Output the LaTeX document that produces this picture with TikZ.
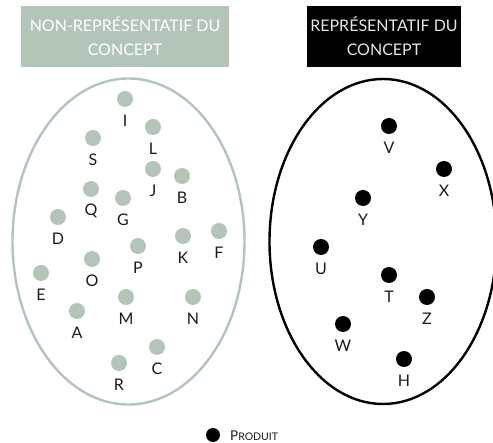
\documentclass[tikz,border=0pt]{standalone}
\usepackage{fontspec}
\setmainfont{Lato}
\definecolor{sage}{HTML}{B3C4B8}
\definecolor{lightgr}{HTML}{E6E6E6}
\definecolor{ink}{HTML}{1A1A1A}
\begin{document}
\begin{tikzpicture}[x=1pt,y=-1pt,
  hdr/.style={minimum width=208pt,minimum height=61pt,inner sep=0pt,align=center,font=\fontsize{16}{24}\selectfont},
  gdot/.style={circle,fill=sage,minimum size=16pt,inner sep=0pt},
  bdot/.style={circle,fill=black,minimum size=16pt,inner sep=0pt},
  lbl/.style={font=\fontsize{16}{16}\selectfont,text=ink,inner sep=0pt,anchor=center}
]
\useasboundingbox (0,0) rectangle (493,443);
\node[hdr,fill=sage,text=white] (hl) at (125,36.5) {NON-REPRÉSENTATIF DU\\CONCEPT};
\node[hdr,fill=black,text=lightgr,minimum width=154pt] (hr) at (384,36.5) {REPRÉSENTATIF DU\\CONCEPT};
\begin{scope}
\clip (0,0) rectangle (493,443);
\draw[sage,line width=2.4pt] (128.5,241.5) ellipse [x radius=116, y radius=163];
\draw[black,line width=2.4pt] (383,241.5) ellipse [x radius=113.5, y radius=162.5];
\end{scope}
% left dots
\foreach \n/\x/\y in {I/125/99,L/153/127,S/93/138,J/153/169,B/182/176,Q/91/189,G/123/198,D/58/217,F/219/231,K/183/236,P/138/246,O/92/259,E/41/273,M/126/297,N/193/297,A/77/311,C/157/347,R/119/363}{
  \node[gdot] (d\n) at (\x,\y) {};
  \node[lbl] (l\n) at (\x,\y+22) {\n};
}
% right dots
\foreach \n/\x/\y in {V/389/126,X/444/169,Y/363/198,U/321/247,T/389/275,Z/427/297,W/343/324,H/404/359}{
  \node[bdot] (d\n) at (\x,\y) {};
  \node[lbl] (l\n) at (\x,\y+22) {\n};
}
% legend
\node[circle,fill=black,minimum size=14pt,inner sep=0pt] (leg) at (213,435) {};
\node[anchor=west,inner sep=0pt,text=ink] (legt) at (230,435.5) {\fontsize{13.5}{12}\selectfont P\fontsize{10.5}{12}\selectfont RODUIT};
\end{tikzpicture}
\end{document}
